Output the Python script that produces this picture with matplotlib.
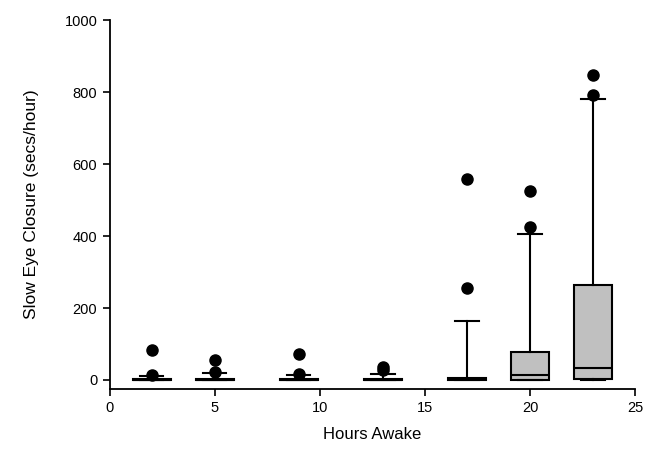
import matplotlib.pyplot as plt

plt.rcParams['font.family'] = ['Liberation Sans', 'DejaVu Sans']

# hours awake for each box
hours = [2, 5, 9, 13, 17, 20, 23]
# summary stats (secs/hour)
whis_lo = [0, 0, 0, 0, 0, 0, 0]
q1 = [0, 0, 0, 0, 0, 1, 4]
medians = [1, 1, 1, 1, 2, 14, 33]
q3 = [2, 2, 2, 2, 5, 77, 264]
whis_hi = [10, 20, 14, 18, 165, 407, 782]
outliers = [[14, 84], [22, 56], [18, 72], [28, 37], [255, 559], [425, 524], [793, 847]]

stats = []
for i in range(len(hours)):
    stats.append({'whislo': whis_lo[i], 'q1': q1[i], 'med': medians[i],
                  'q3': q3[i], 'whishi': whis_hi[i], 'fliers': outliers[i]})

fig = plt.figure(figsize=(6.54, 4.51), dpi=100)
ax = fig.add_axes([0.168, 0.1375, 0.803, 0.818])

ax.bxp(stats, positions=hours, widths=1.8, capwidths=1.1, patch_artist=True,
       manage_ticks=False,
       boxprops=dict(facecolor='#c0c0c0', edgecolor='black', linewidth=1.5),
       medianprops=dict(color='black', linewidth=1.5),
       whiskerprops=dict(color='black', linewidth=1.5),
       capprops=dict(color='black', linewidth=1.5),
       flierprops=dict(marker='o', markerfacecolor='black', markeredgecolor='black',
                       markersize=8, linestyle='none'))

ax.set_xlim(0, 25)
ax.set_ylim(-25, 1000)
ax.set_xticks([0, 5, 10, 15, 20, 25])
ax.set_yticks([0, 200, 400, 600, 800, 1000])
ax.spines['top'].set_visible(False)
ax.spines['right'].set_visible(False)
ax.spines['left'].set_linewidth(1.3)
ax.spines['bottom'].set_linewidth(1.3)
ax.tick_params(direction='out', length=5, width=1.2, labelsize=10.5, pad=4)

ax.set_xlabel('Hours Awake', fontsize=12, labelpad=8)
ax.set_ylabel('Slow Eye Closure (secs/hour)', fontsize=12.5, labelpad=18)

plt.savefig('out.png')
